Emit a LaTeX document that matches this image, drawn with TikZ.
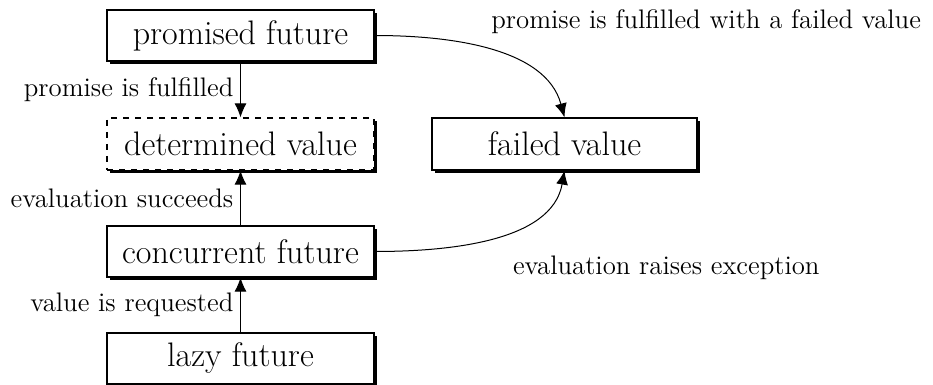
\documentclass[tikz,border=0pt]{standalone}
\usetikzlibrary{arrows.meta,shadows}

\tikzset{
  state/.style={rectangle, draw=black, fill=white, line width=0.6pt,
    minimum width=133.5pt, minimum height=25.5pt, inner sep=0pt,
    font=\fontsize{17}{20}\selectfont,
    drop shadow={shadow xshift=1.5pt, shadow yshift=-1.5pt, fill=black, opacity=1}},
  trans/.style={-{Latex[length=7pt,width=6pt]}, line width=0.5pt},
  lbl/.style={font=\fontsize{13.4}{16}\selectfont}
}

\begin{document}
\begin{tikzpicture}[x=0.5pt,y=-0.5pt]
\useasboundingbox (0,0) rectangle (933,385);

\node[state] (promised) at (240.5,35.5) {promised future};
\node[state, dashed, minimum height=26pt] (determined) at (240.5,144) {determined value};
\node[state, minimum height=26pt, minimum width=132.5pt] (failed) at (564.5,144) {failed value};
\node[state] (concurrent) at (240.5,251.5) {concurrent future};
\node[state] (lazy) at (240.5,358.5) {lazy future};

\draw[trans] (promised) --node[lbl, left]{promise is fulfilled} (determined);
\draw[trans] (concurrent) --node[lbl, left]{evaluation succeeds} (determined);
\draw[trans] (lazy) --node[lbl, left]{value is requested} (concurrent);
\draw[trans] (promised.east) to[out=0,in=105,looseness=0.9] (failed.north);
\draw[trans] (concurrent.east) to[out=0,in=-100,looseness=0.9] (failed.south);

\node[lbl, anchor=east] (fulfilledfailed) at (928,22) {promise is fulfilled with a failed value};
\node[lbl, anchor=west] (raises) at (506,268) {evaluation raises exception};
\end{tikzpicture}
\end{document}
